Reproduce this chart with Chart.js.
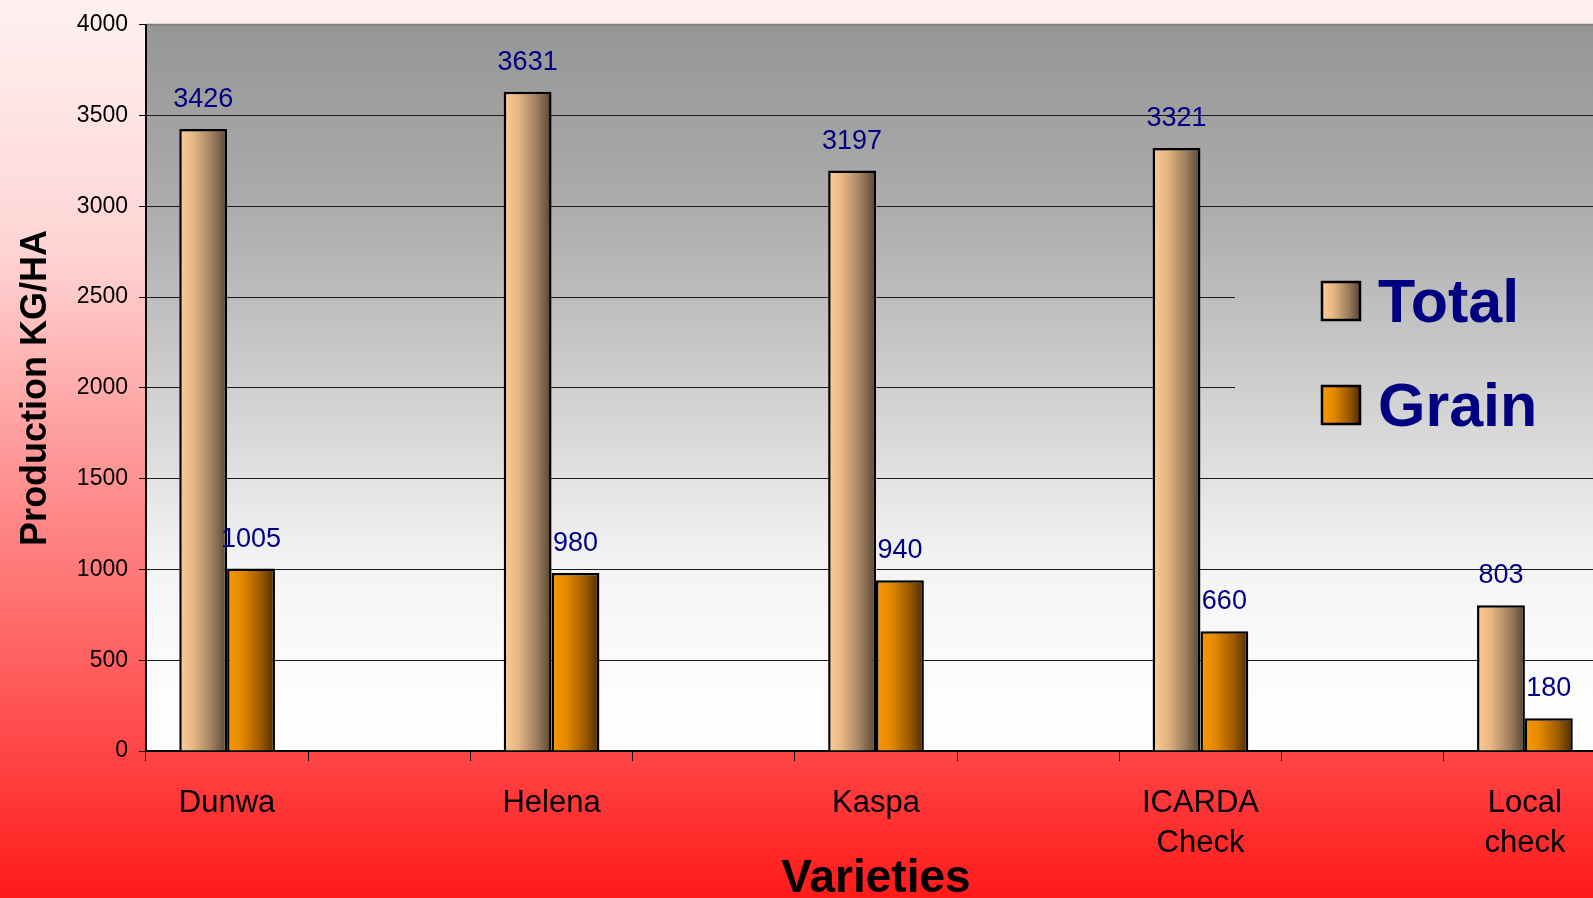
<!DOCTYPE html>
<html>
<head>
<meta charset="utf-8">
<title>Production by variety</title>
<script src="https://cdn.jsdelivr.net/npm/chart.js@4.4.0/dist/chart.umd.min.js"></script>
<style>
html, body {
    margin: 0;
    padding: 0;
    width: 1593px;
    height: 898px;
    overflow: hidden;
    background: linear-gradient(to bottom, #fff1f1 0%, #ffd4d4 28%, #ff9a9a 50%, #ff7171 67%, #ff4545 84%, #ff1a1a 100%);
}
canvas { display: block; }
</style>
</head>
<body>
<canvas id="prodChart" width="1606" height="898"></canvas>
<script>
// varieties, with empty slots between them like the original sheet
const categories = ['Dunwa', '', 'Helena', '', 'Kaspa', '', ['ICARDA', 'Check'], '', ['Local', 'check']];
const totalValues = [3426, null, 3631, null, 3197, null, 3321, null, 803];
const grainValues = [1005, null, 980, null, 940, null, 660, null, 180];
const seriesNames = ['Total', 'Grain'];
const yMin = 0;
const yMax = 4000;
const yStep = 500;

const FONT = '"Liberation Sans", Arial, sans-serif';
const CAT_PCT = 0.59;

const totalStops = [[0, '#fdcb95'], [0.3, '#e6b684'], [0.7, '#9c7d5e'], [1, '#574433']];
const grainStops = [[0, '#fa9800'], [0.3, '#e48a00'], [0.7, '#9c5a00'], [1, '#4e2c00']];
const plotStops = [[0, '#969696'], [0.12, '#a0a0a0'], [0.25, '#acacac'], [0.31, '#b4b4b4'],
    [0.59, '#dcdcdc'], [0.66, '#e8e8e8'], [0.75, '#f4f4f4'], [0.87, '#fbfbfb'], [1, '#ffffff']];

function barFill(stops, side) {
    return ctx => {
        const chart = ctx.chart;
        if (ctx.type !== 'data' || !chart.chartArea) return stops[0][1];
        const xs = chart.scales.x;
        const center = xs.getPixelForValue(ctx.dataIndex);
        const w = (xs.width / categories.length) * CAT_PCT / 2;
        const x0 = side === 0 ? center - w : center;
        const g = chart.ctx.createLinearGradient(x0, 0, x0 + w, 0);
        stops.forEach(s => g.addColorStop(s[0], s[1]));
        return g;
    };
}

function plotGradient(chart) {
    const a = chart.chartArea;
    const g = chart.ctx.createLinearGradient(0, a.top, 0, a.bottom);
    plotStops.forEach(s => g.addColorStop(s[0], s[1]));
    return g;
}

// plot background, legend box that hides the grid, and the legend itself
const plotDecor = {
    id: 'plotDecor',
    beforeDraw(chart) {
        const { ctx, chartArea: a } = chart;
        ctx.save();
        ctx.fillStyle = plotGradient(chart);
        ctx.fillRect(a.left, a.top, a.right - a.left, a.bottom - a.top);
        ctx.strokeStyle = '#808080';
        ctx.lineWidth = 2;
        ctx.beginPath();
        ctx.moveTo(a.left, a.top);
        ctx.lineTo(a.right, a.top);
        ctx.stroke();
        ctx.restore();
    },
    beforeDatasetsDraw(chart) {
        const { ctx, chartArea: a } = chart;
        ctx.save();
        ctx.fillStyle = plotGradient(chart);
        ctx.fillRect(1235, 235, a.right - 1235, 220);
        ctx.restore();
    },
    afterDraw(chart) {
        const ctx = chart.ctx;
        const stopsList = [totalStops, grainStops];
        ctx.save();
        chart.data.datasets.forEach((ds, i) => {
            const top = 282 + i * 104;
            const g = ctx.createLinearGradient(1322, 0, 1360, 0);
            stopsList[i].forEach(s => g.addColorStop(s[0], s[1]));
            ctx.fillStyle = g;
            ctx.fillRect(1322, top, 38, 38);
            ctx.strokeStyle = '#000';
            ctx.lineWidth = 2.5;
            ctx.strokeRect(1322, top, 38, 38);
            ctx.fillStyle = '#000080';
            ctx.font = 'bold 61px ' + FONT;
            ctx.textAlign = 'left';
            ctx.textBaseline = 'alphabetic';
            ctx.fillText(ds.label, 1378, top + 40);
        });
        ctx.restore();
    }
};

const valueLabels = {
    id: 'valueLabels',
    afterDatasetsDraw(chart) {
        const ctx = chart.ctx;
        ctx.save();
        ctx.font = '27px ' + FONT;
        ctx.fillStyle = '#000080';
        ctx.textAlign = 'center';
        ctx.textBaseline = 'alphabetic';
        chart.data.datasets.forEach((ds, i) => {
            chart.getDatasetMeta(i).data.forEach((bar, j) => {
                if (ds.data[j] == null) return;
                ctx.fillText(String(ds.data[j]), bar.x, bar.y - 22);
            });
        });
        ctx.restore();
    }
};

const ctx = document.getElementById('prodChart').getContext('2d');
new Chart(ctx, {
    type: 'bar',
    data: {
        labels: categories,
        datasets: [{
            label: seriesNames[0],
            data: totalValues,
            backgroundColor: barFill(totalStops, 0),
            borderColor: '#000',
            borderWidth: 2.5
        }, {
            label: seriesNames[1],
            data: grainValues,
            backgroundColor: barFill(grainStops, 1),
            borderColor: '#000',
            borderWidth: 2.5
        }]
    },
    options: {
        responsive: false,
        animation: false,
        devicePixelRatio: 1,
        categoryPercentage: CAT_PCT,
        barPercentage: 1,
        layout: { padding: { top: 22, left: 0, right: 0, bottom: 0 } },
        plugins: {
            legend: { display: false },
            tooltip: { enabled: false }
        },
        scales: {
            x: {
                grid: { drawOnChartArea: false, tickLength: 10, color: '#000', offset: true },
                border: { color: '#000', width: 2 },
                ticks: {
                    color: '#000',
                    font: { family: FONT, size: 31, lineHeight: 1.31 },
                    padding: 22,
                    maxRotation: 0,
                    autoSkip: false
                },
                title: {
                    display: true,
                    text: 'Varieties',
                    color: '#000',
                    font: { family: FONT, size: 46, weight: 'bold', lineHeight: 0.8 },
                    padding: 0
                },
                afterFit(s) { s.height = 147; }
            },
            y: {
                min: yMin,
                max: yMax,
                grid: {
                    color: c => (c.tick && c.tick.value === yMax) ? 'rgba(0,0,0,0)' : '#1a1a1a',
                    tickColor: '#000',
                    tickLength: 7,
                    lineWidth: 1
                },
                border: { color: '#000', width: 2 },
                ticks: {
                    stepSize: yStep,
                    color: '#000',
                    font: { family: FONT, size: 23 },
                    padding: 11,
                    callback: v => String(v)
                },
                title: {
                    display: true,
                    text: 'Production KG/HA',
                    color: '#000',
                    font: { family: FONT, size: 36, weight: 'bold', lineHeight: 1.2 },
                    padding: { top: 14, bottom: 0 }
                },
                afterFit(s) { s.width = 146; }
            }
        }
    },
    plugins: [plotDecor, valueLabels]
});
</script>
</body>
</html>
